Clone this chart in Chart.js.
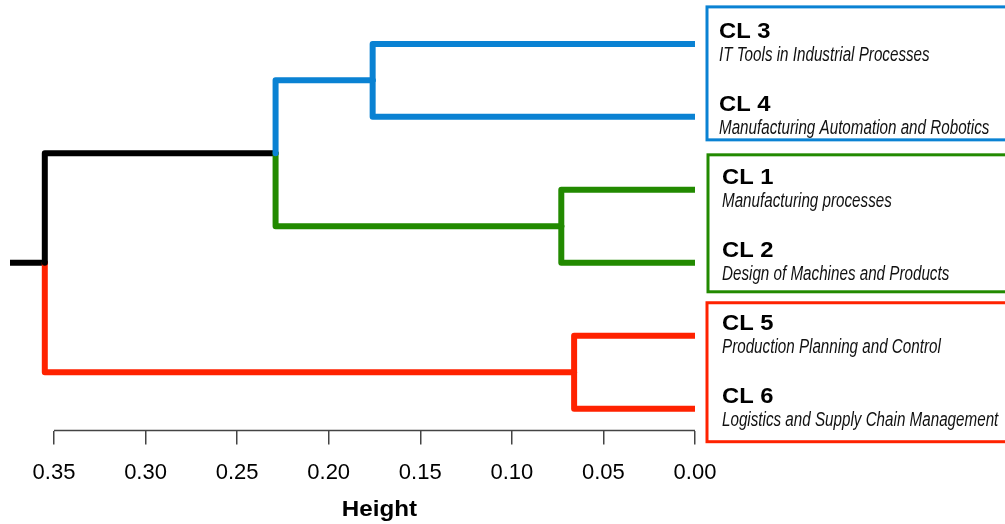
<!DOCTYPE html>
<html>
<head>
<meta charset="utf-8">
<script src="https://cdn.jsdelivr.net/npm/chart.js@4.4.1/dist/chart.umd.min.js"></script>
<style>
  body { margin: 0; background: #fff; }
  #wrap { width: 1005px; height: 524px; }
</style>
</head>
<body>
<div id="wrap"><canvas id="myChart" width="1005" height="524"></canvas></div>
<script>
// leaves, top to bottom
const leafLabels = ['CL 3', 'CL 4', 'CL 1', 'CL 2', 'CL 5', 'CL 6'];
const leafDescriptions = [
  'IT Tools in Industrial Processes',
  'Manufacturing Automation and Robotics',
  'Manufacturing processes',
  'Design of Machines and Products',
  'Production Planning and Control',
  'Logistics and Supply Chain Management'
];
const leafPositions = [1, 2, 3, 4, 5, 6];

// merges (node index: leaves 0-5, then merges 6, 7, ...)
const mergeLeft = [0, 2, 4, 6, 9];
const mergeRight = [1, 3, 5, 7, 8];
const mergeHeights = [0.176, 0.073, 0.066, 0.229, 0.355];
const rootTail = 0.374;

const axisTicks = [0.35, 0.30, 0.25, 0.20, 0.15, 0.10, 0.05, 0.00];

const BLUE = '#0a82d3', GREEN = '#228a00', RED = '#ff2200', BLACK = '#000000';
const nodeColors = [BLUE, BLUE, GREEN, GREEN, RED, RED, BLUE, GREEN, RED, BLACK, BLACK];
const boxes = [
  { from: 0, to: 1, color: BLUE, top: -37, bottom: 23, left: 707, textX: 719 },
  { from: 2, to: 3, color: GREEN, top: -35, bottom: 29, left: 708, textX: 722 },
  { from: 4, to: 5, color: RED, top: -33, bottom: 33, left: 707, textX: 722 }
];

// build node coordinates
const nodes = leafPositions.map(p => ({ h: 0, y: p }));
mergeHeights.forEach((h, i) => {
  nodes.push({ h: h, y: (nodes[mergeLeft[i]].y + nodes[mergeRight[i]].y) / 2 });
});

const datasets = [];
mergeHeights.forEach((h, i) => {
  const parent = nodes[leafPositions.length + i];
  [mergeLeft[i], mergeRight[i]].forEach(c => {
    const child = nodes[c];
    datasets.push({
      data: [{ x: parent.h, y: parent.y }, { x: parent.h, y: child.y }, { x: child.h, y: child.y }],
      borderColor: nodeColors[c]
    });
  });
});
const root = nodes[nodes.length - 1];
datasets.push({ data: [{ x: rootTail, y: root.y }, { x: root.h, y: root.y }], borderColor: BLACK });
datasets.forEach(d => {
  d.showLine = true;
  d.borderWidth = 6;
  d.pointRadius = 0;
  d.borderCapStyle = 'round';
  d.borderJoinStyle = 'round';
  d.fill = false;
});

const SANS = "'Liberation Sans', Arial, sans-serif";

function scaledText(ctx, text, x, y, sx) {
  ctx.save();
  ctx.translate(x, y);
  ctx.scale(sx, 1);
  ctx.fillText(text, 0, 0);
  ctx.restore();
}

const dendroExtras = {
  id: 'dendroExtras',
  afterDraw(chart) {
    const ctx = chart.ctx;
    const xs = chart.scales.x, ys = chart.scales.y;
    const axY = chart.chartArea.bottom;
    ctx.save();
    // R style axis line
    ctx.strokeStyle = '#444';
    ctx.lineWidth = 1.5;
    ctx.beginPath();
    ctx.moveTo(xs.getPixelForValue(axisTicks[0]), axY);
    ctx.lineTo(xs.getPixelForValue(axisTicks[axisTicks.length - 1]), axY);
    ctx.stroke();
    // axis title
    ctx.fillStyle = '#000';
    ctx.font = "bold 22px " + SANS;
    ctx.textAlign = 'center';
    ctx.textBaseline = 'alphabetic';
    scaledText(ctx, 'Height', (xs.getPixelForValue(axisTicks[0]) + xs.getPixelForValue(0)) / 2 + 5, 516, 1.1);
    // cluster boxes and labels
    ctx.textAlign = 'left';
    boxes.forEach(b => {
      const t = ys.getPixelForValue(leafPositions[b.from]) + b.top;
      const bt = ys.getPixelForValue(leafPositions[b.to]) + b.bottom;
      ctx.strokeStyle = b.color;
      ctx.lineWidth = 3;
      ctx.strokeRect(b.left, t, 1010 - b.left, bt - t);
      for (let i = b.from; i <= b.to; i++) {
        const y = ys.getPixelForValue(leafPositions[i]);
        ctx.fillStyle = '#000';
        ctx.font = "bold 22px " + SANS;
        scaledText(ctx, leafLabels[i], b.textX, y - 6, 1.08);
        ctx.fillStyle = '#111';
        ctx.font = "italic 20px " + SANS;
        scaledText(ctx, leafDescriptions[i], b.textX, y + 17, 0.76);
      }
    });
    ctx.restore();
  }
};

new Chart(document.getElementById('myChart'), {
  type: 'scatter',
  data: { datasets: datasets },
  plugins: [dendroExtras],
  options: {
    responsive: false,
    animation: false,
    layout: { padding: { left: 10, right: 310, top: 22, bottom: 23 } },
    plugins: { legend: { display: false }, tooltip: { enabled: false } },
    scales: {
      x: {
        type: 'linear',
        reverse: true,
        min: 0,
        max: rootTail,
        border: { display: false },
        grid: { drawOnChartArea: false, drawTicks: true, tickLength: 14, color: '#444', lineWidth: 1.5 },
        afterBuildTicks: scale => { scale.ticks = axisTicks.map(v => ({ value: v })); },
        ticks: {
          padding: 15,
          autoSkip: false,
          maxRotation: 0,
          color: '#000',
          font: { family: SANS, size: 22 },
          callback: v => Number(v).toFixed(2)
        }
      },
      y: {
        type: 'linear',
        display: false,
        reverse: true,
        min: 0.7,
        max: 6.3
      }
    }
  }
});
</script>
</body>
</html>
